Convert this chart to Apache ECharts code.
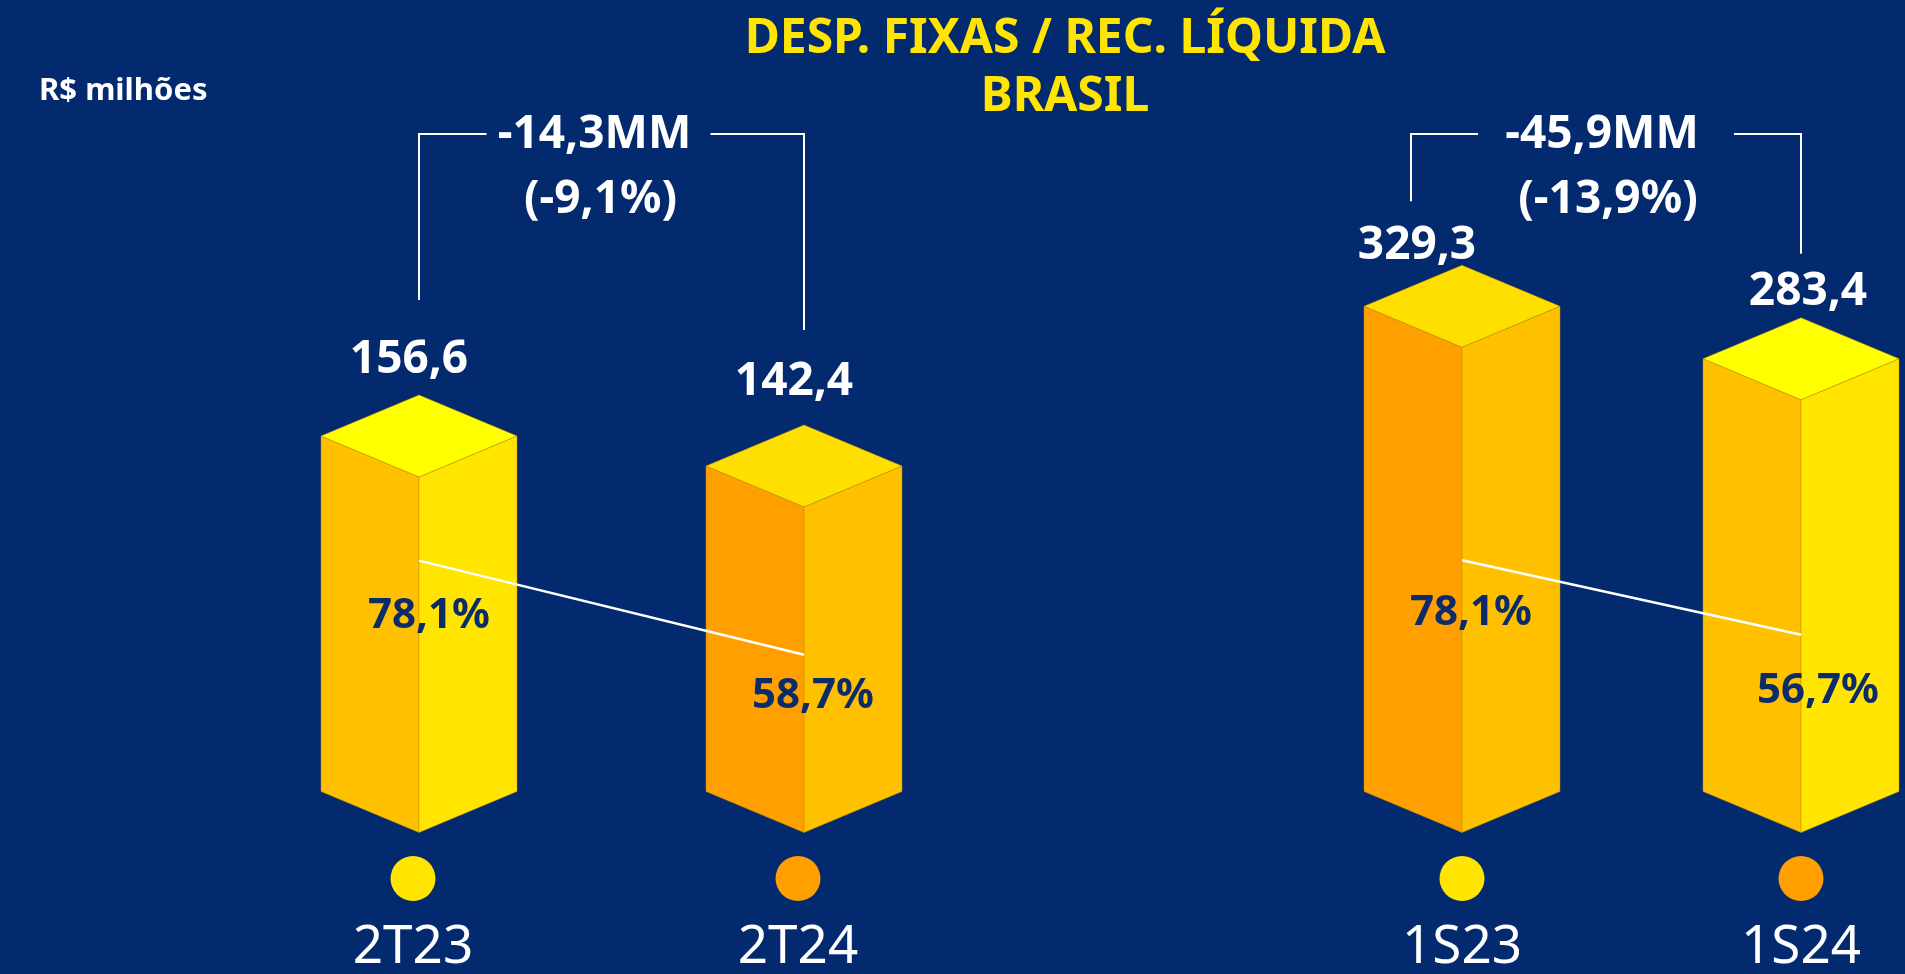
<!DOCTYPE html>
<html>
<head>
<meta charset="utf-8">
<title>Desp. Fixas / Rec. Líquida - Brasil</title>
<script src="https://cdn.jsdelivr.net/npm/echarts@6/dist/echarts.min.js"></script>
<style>
  html, body { margin: 0; padding: 0; background: #032a6e; }
  #chart { width: 1905px; height: 974px; }
</style>
</head>
<body>
<div id="chart"></div>
<script>
// quarter block (left)
const quarterCats = ['2T23', '2T24'];
const quarterValues = [156.6, 142.4];   // R$ milhões
const quarterRatio = [78.1, 58.7];      // desp. fixas / rec. líquida (%)

// semester block (right)
const semesterCats = ['1S23', '1S24'];
const semesterValues = [329.3, 283.4];
const semesterRatio = [78.1, 56.7];

// variation call-outs
const deltaLabels = ['-14,3MM', '-45,9MM'];
const deltaPcts = ['(-9,1%)', '(-13,9%)'];

// look & layout
const FONT = '"Noto Sans", sans-serif';
const NAVY = '#032a6e';
const HALF_W = 98;     // half width of a cube
const DEPTH = 41;      // half height of the top rhombus
const BRACKET_Y = 134;
// [left face, right face, top face]
const YELLOW_CUBE = ['#ffc000', '#ffe500', '#ffff00'];
const ORANGE_CUBE = ['#ff9f00', '#ffc000', '#ffdf00'];
const cubePalettes = [[YELLOW_CUBE, ORANGE_CUBE], [ORANGE_CUBE, YELLOW_CUBE]];
const dotColors = ['#ffe500', '#ff9f00'];
const valueShift = [[[-10, -35], [-10, -43]], [[-45, -19], [7, -26]]];
const pctShift = [[[10, 55], [9, 41]], [[9, 53], [17, 56]]];
const bracketGap = [95, 64];
const bracketLegShift = [[0, 0], [-51, 0]];
const bracketShift = [-13, 0];
const bracketHalfGap = [112, 128];

const fmt = v => v.toFixed(1).replace('.', ',');

function cubeRender(g) {
  return function (params, api) {
    const i = api.value(0);
    const p = api.coord([i, api.value(1)]);
    const x = p[0], yt = p[1];
    const yb = params.coordSys.y + params.coordSys.height;
    const pal = cubePalettes[g][i];
    const edge = { stroke: 'rgba(190,140,0,0.6)', lineWidth: 0.8 };
    const sh = valueShift[g][i];
    return {
      type: 'group',
      children: [
        { type: 'polygon', shape: { points: [[x - HALF_W, yt], [x, yt + DEPTH], [x, yb + DEPTH], [x - HALF_W, yb]] },
          style: Object.assign({ fill: pal[0] }, edge) },
        { type: 'polygon', shape: { points: [[x, yt + DEPTH], [x + HALF_W, yt], [x + HALF_W, yb], [x, yb + DEPTH]] },
          style: Object.assign({ fill: pal[1] }, edge) },
        { type: 'polygon', shape: { points: [[x, yt - DEPTH], [x + HALF_W, yt], [x, yt + DEPTH], [x - HALF_W, yt]] },
          style: Object.assign({ fill: pal[2] }, edge) },
        { type: 'circle', shape: { cx: x - (g === 0 ? 6 : 0), cy: yb + 87, r: 22.5 }, style: { fill: dotColors[i] } },
        { type: 'text', style: { text: fmt(api.value(1)), x: x + sh[0], y: yt - DEPTH + sh[1],
            fill: '#fff', fontSize: 46, fontWeight: 'bold', fontFamily: FONT,
            align: 'center', verticalAlign: 'middle' } }
      ]
    };
  };
}

function bracketRender(g) {
  return function (params, api) {
    const a = api.coord([api.value(0), api.value(1)]);
    const b = api.coord([api.value(2), api.value(3)]);
    const xa = a[0] + bracketLegShift[g][0];
    const xb = b[0] + bracketLegShift[g][1];
    const legA = a[1] - DEPTH - bracketGap[g];
    const legB = b[1] - DEPTH - bracketGap[g];
    const mid = (xa + xb) / 2 + bracketShift[g];
    const half = bracketHalfGap[g];
    const line = { stroke: '#fff', lineWidth: 2, fill: null };
    const txt = { fill: '#fff', fontSize: 46, fontWeight: 'bold', fontFamily: FONT, align: 'center', verticalAlign: 'middle' };
    return {
      type: 'group',
      children: [
        { type: 'polyline', shape: { points: [[xa, legA], [xa, BRACKET_Y], [mid - half, BRACKET_Y]] }, style: line },
        { type: 'polyline', shape: { points: [[mid + half, BRACKET_Y], [xb, BRACKET_Y], [xb, legB]] }, style: line },
        { type: 'text', style: Object.assign({ text: deltaLabels[g], x: mid - 4, y: BRACKET_Y + 1 }, txt) },
        { type: 'text', style: Object.assign({ text: deltaPcts[g], x: mid + 2, y: BRACKET_Y + 66 }, txt) }
      ]
    };
  };
}

function xAxisFor(g, cats) {
  return {
    type: 'category', gridIndex: g, data: cats, boundaryGap: false,
    axisLine: { show: false }, axisTick: { show: false }, splitLine: { show: false },
    axisLabel: { interval: 0, margin: 156, verticalAlign: 'middle', color: '#fff', fontSize: 53, fontFamily: FONT,
      padding: g === 0 ? [0, 12, 0, 0] : 0 }
  };
}

function blockSeries(g, values, ratio) {
  return [
    { type: 'custom', xAxisIndex: g, yAxisIndex: g * 2, renderItem: cubeRender(g),
      encode: { x: 0, y: 1 }, data: values.map((v, i) => [i, v]), z: 2 },
    { type: 'line', xAxisIndex: g, yAxisIndex: g * 2 + 1, z: 4,
      data: ratio.map((v, i) => ({ value: v, label: { offset: pctShift[g][i] } })),
      symbol: 'circle', symbolSize: 1, itemStyle: { color: 'rgba(0,0,0,0)' },
      lineStyle: { color: '#fff', width: 2.5 },
      label: { show: true, position: 'inside', formatter: p => fmt(p.value) + '%',
        color: '#0b2b6b', fontSize: 42, fontWeight: 'bold', fontFamily: FONT } },
    { type: 'custom', xAxisIndex: g, yAxisIndex: g * 2, renderItem: bracketRender(g),
      encode: { x: [0, 2], y: [1, 3] }, data: [[0, values[0], 1, values[1]]], z: 3 }
  ];
}

const chart = echarts.init(document.getElementById('chart'));
chart.setOption({
  backgroundColor: NAVY,
  animation: false,
  title: [
    { text: 'DESP. FIXAS / REC. LÍQUIDA\nBRASIL', left: 1065, top: 10, padding: 0, textAlign: 'center',
      textStyle: { color: '#ffe500', fontSize: 48, fontWeight: 'bold', fontFamily: FONT, lineHeight: 58 } },
    { text: 'R$ milhões', left: 39, top: 76, padding: 0,
      textStyle: { color: '#fff', fontSize: 31, fontWeight: 'bold', fontFamily: FONT, lineHeight: 30 } }
  ],
  grid: [
    { left: 419, top: 93, width: 385, height: 700 },
    { left: 1462, top: 93, width: 339, height: 700 }
  ],
  xAxis: [xAxisFor(0, quarterCats), xAxisFor(1, semesterCats)],
  yAxis: [
    { type: 'value', gridIndex: 0, min: -12.05, max: 319.3, show: false },
    { type: 'value', gridIndex: 0, min: 30.5, max: 174.5, show: false },
    { type: 'value', gridIndex: 1, min: -95, max: 515.8, show: false },
    { type: 'value', gridIndex: 1, min: 11.7, max: 212.3, show: false }
  ],
  series: blockSeries(0, quarterValues, quarterRatio).concat(blockSeries(1, semesterValues, semesterRatio))
});
</script>
</body>
</html>
